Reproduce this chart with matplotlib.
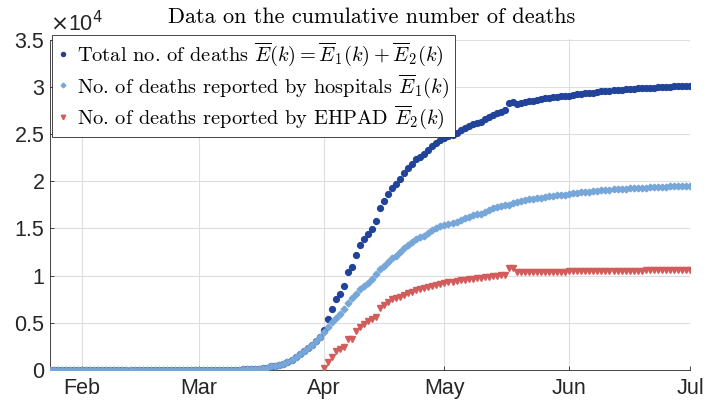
import numpy as np
import pandas as pd
import matplotlib
matplotlib.use("Agg")
import matplotlib.pyplot as plt
import matplotlib.dates as mdates

plt.rcParams['mathtext.fontset'] = 'cm'

start_date = "2020-01-24"
ehpad_start = "2020-04-01"

hosp_jan = [0, 0, 0, 0, 0, 0, 0, 0]
hosp_feb = [0, 0, 0, 0, 0, 0, 0, 0, 0, 0, 0, 0, 0, 0, 1, 1, 1, 1, 1, 1, 1, 1, 1, 1, 1, 2, 2, 2, 2]
hosp_mar = [2, 3, 4, 4, 6, 9, 11, 19, 25, 33, 48, 61, 79, 91, 127, 148, 175, 264, 372, 450,
            562, 674, 860, 1100, 1331, 1696, 1995, 2314, 2606, 3024, 3523]
hosp_apr = [4032, 4503, 5091, 5532, 5889, 6494, 7091, 7632, 8044, 8598, 8943, 9253, 9588, 10129,
            10643, 11060, 11478, 11842, 12069, 12513, 12900, 13236, 13547, 13852, 14050, 14202,
            14470, 14800, 15050, 15250]
hosp_may = [15370, 15460, 15540, 15710, 15900, 16060, 16230, 16390, 16470, 16550, 16750, 16960,
            17110, 17250, 17360, 17430, 17500, 17640, 17780, 17900, 18000, 18080, 18130, 18180,
            18260, 18350, 18410, 18460, 18500, 18540, 18570]
hosp_jun = [18620, 18700, 18760, 18810, 18860, 18890, 18910, 18960, 19020, 19060, 19100, 19130,
            19160, 19170, 19200, 19230, 19260, 19290, 19310, 19320, 19330, 19350, 19380, 19400,
            19420, 19440, 19450, 19455, 19470, 19480]
hosp_jul = [19490]

ehpad_apr = [250, 884, 1416, 2028, 2189, 2417, 3237, 3237, 4166, 4599, 4889, 5140, 5379, 5600,
             6524, 6860, 7203, 7481, 7620, 7760, 7940, 8155, 8300, 8440, 8550, 8650, 8800, 8890,
             9020, 9100]
ehpad_may = [9225, 9300, 9350, 9400, 9480, 9540, 9590, 9650, 9690, 9720, 9800, 9870, 9910, 9970,
             10010, 10060, 10790, 10780, 10380, 10385, 10390, 10395, 10400, 10400, 10405, 10410,
             10415, 10420, 10420, 10425, 10430]
ehpad_jun = [10440, 10445, 10450, 10455, 10460, 10465, 10470, 10475, 10480, 10490, 10495, 10500,
             10505, 10510, 10515, 10520, 10525, 10530, 10535, 10540, 10545, 10550, 10555, 10560,
             10565, 10570, 10575, 10580, 10590, 10600]
ehpad_jul = [10610]

month_ticks = ["2020-02-01", "2020-03-01", "2020-04-01", "2020-05-01", "2020-06-01", "2020-07-01"]
month_labels = ["Feb", "Mar", "Apr", "May", "Jun", "Jul"]
y_ticks = [0, 5000, 10000, 15000, 20000, 25000, 30000, 35000]
y_labels = ["0", "0.5", "1", "1.5", "2", "2.5", "3", "3.5"]

hosp = np.array(hosp_jan + hosp_feb + hosp_mar + hosp_apr + hosp_may + hosp_jun + hosp_jul, float)
ehpad = np.array(ehpad_apr + ehpad_may + ehpad_jun + ehpad_jul, float)
dates = pd.date_range(start_date, periods=len(hosp), freq="D")
edates = pd.date_range(ehpad_start, periods=len(ehpad), freq="D")
ehpad_full = np.zeros_like(hosp)
ehpad_full[len(hosp) - len(ehpad):] = ehpad
total = hosp + ehpad_full

c_dark = "#21439a"
c_light = "#77a6d9"
c_red = "#d25c5c"

fig = plt.figure(figsize=(7.06, 4.05), dpi=100)
ax = fig.add_axes([50 / 706, 35 / 405, 640 / 706, 330.5 / 405])

ax.plot(dates, total, linestyle="none", marker="o", ms=4.2, color=c_dark, mec=c_dark,
        label=r"Total no. of deaths $\overline{E}(k)=\overline{E}_1(k)+\overline{E}_2(k)$", zorder=3)
ax.plot(dates, hosp, linestyle="none", marker="D", ms=3.4, color=c_light, mec=c_light,
        label=r"No. of deaths reported by hospitals $\overline{E}_1(k)$", zorder=4)
ax.plot(edates, ehpad, linestyle="none", marker="v", ms=4.6, color=c_red, mec=c_red,
        label=r"No. of deaths reported by EHPAD $\overline{E}_2(k)$", zorder=5)

ax.set_xlim(pd.Timestamp(start_date), pd.Timestamp("2020-07-01"))
ax.set_ylim(0, 35000)
ax.set_xticks([pd.Timestamp(d) for d in month_ticks])
ax.set_xticklabels(month_labels)
ax.set_yticks(y_ticks)
ax.set_yticklabels(y_labels)
for lab in ax.get_xticklabels() + ax.get_yticklabels():
    lab.set_fontfamily("Liberation Sans")
    lab.set_fontsize(15.5)
    lab.set_color("#262626")
ax.tick_params(direction="in", length=3, width=0.6, color="#262626")
ax.tick_params(axis="y", pad=4)
ax.tick_params(axis="x", pad=6)
ax.grid(True, color="#dedede", linewidth=0.8)
ax.set_axisbelow(True)
for s in ["top", "right"]:
    ax.spines[s].set_visible(False)
for s in ["left", "bottom"]:
    ax.spines[s].set_color("#262626")
    ax.spines[s].set_linewidth(0.6)

ax.text(0.0, 1.01, r"$\times$10$^{4}$", transform=ax.transAxes, fontsize=15.5,
        fontfamily="Liberation Sans", color="#262626", ha="left", va="bottom",
        math_fontfamily="dejavusans")

fig.text(372 / 706, 1 - 17 / 405, "Data on the cumulative number of deaths", fontfamily="cmr10",
         fontsize=16, ha="center", va="center")

leg = ax.legend(loc="upper left", bbox_to_anchor=(51.5 / 706, 1 - 35 / 405),
                bbox_transform=fig.transFigure, prop={"family": "cmr10", "size": 14.7},
                handlelength=0.5, handletextpad=0.45, labelspacing=0.2, borderpad=0.3,
                borderaxespad=0, fancybox=False, framealpha=1, edgecolor="#262626",
                markerscale=0.7)
leg.get_frame().set_linewidth(0.6)
leg.set_zorder(10)

fig.savefig("out.png", dpi=100)
